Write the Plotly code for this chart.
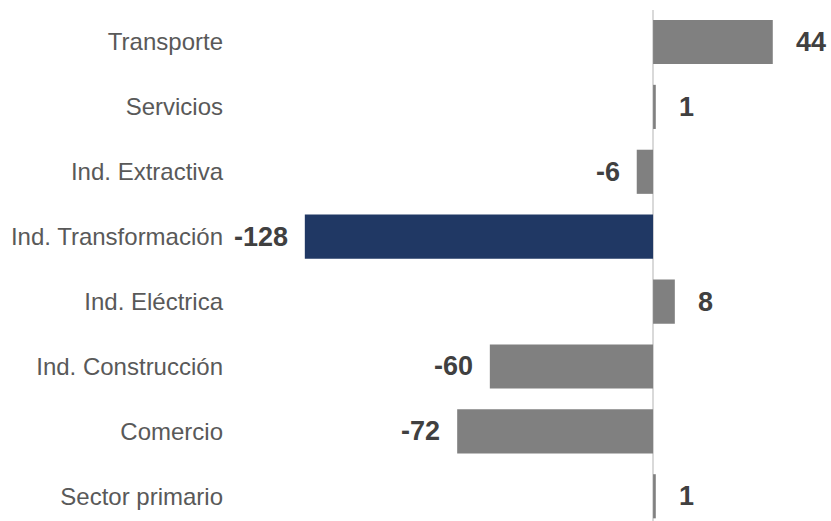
import plotly.graph_objects as go

categories = ["Transporte", "Servicios", "Ind. Extractiva", "Ind. Transformación",
              "Ind. Eléctrica", "Ind. Construcción", "Comercio", "Sector primario"]
values = [44, 1, -6, -128, 8, -60, -72, 1]
highlight = "Ind. Transformación"

colors = ["#203864" if c == highlight else "#808080" for c in categories]

fig = go.Figure()
fig.add_trace(go.Bar(
    y=categories, x=values, orientation="h",
    marker=dict(color=colors, line=dict(width=0)),
    width=0.68, hoverinfo="skip",
))

for c, v in zip(categories, values):
    fig.add_annotation(
        x=v, y=c, text=f"<b>{v}</b>", showarrow=False,
        xanchor="left" if v >= 0 else "right",
        xshift=21 if v >= 0 else -15,
        font=dict(family="Liberation Sans, Arial", size=27, color="#404040"),
    )

fig.update_layout(
    width=831, height=521,
    margin=dict(l=230, r=0, t=10, b=0),
    paper_bgcolor="white", plot_bgcolor="white",
    showlegend=False,
    xaxis=dict(range=[-155.5, 65.4], showgrid=False, showticklabels=False,
               zeroline=True, zerolinecolor="#d9d9d9", zerolinewidth=1.5,
               showline=False, fixedrange=True),
    yaxis=dict(categoryorder="array", categoryarray=categories,
               range=[7.381, -0.493], showgrid=False, showline=False,
               ticks="", ticklabelstandoff=6, fixedrange=True,
               tickfont=dict(family="Liberation Sans, Arial", size=24, color="#595959")),
)

fig.write_html("out.html", config={"displayModeBar": False},
               post_script="document.body.style.margin='0';")
